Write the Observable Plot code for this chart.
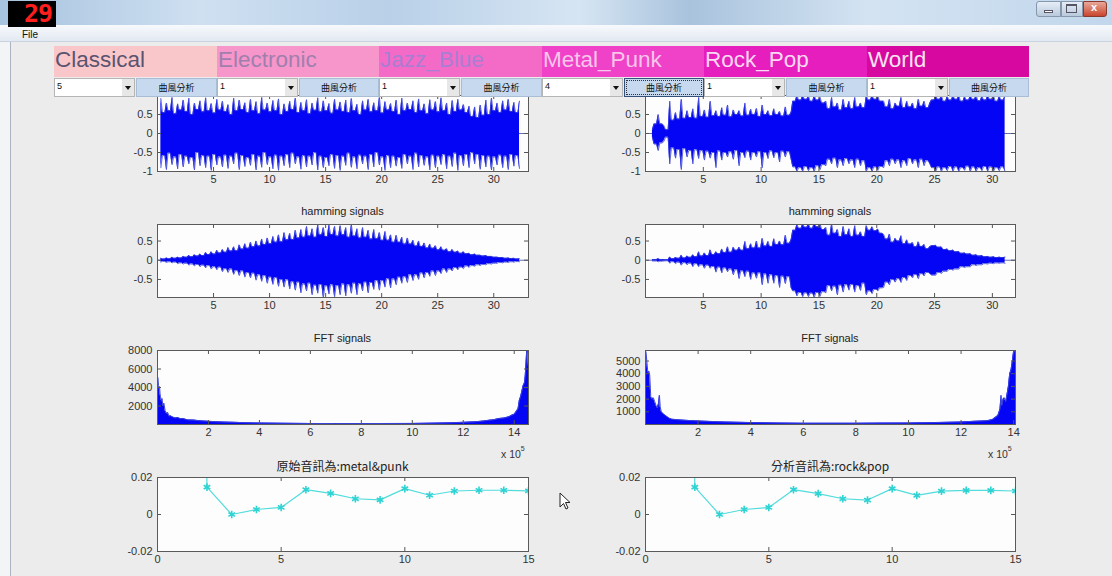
<!DOCTYPE html>
<html><head><meta charset="utf-8">
<script src="https://cdn.jsdelivr.net/npm/d3@7"></script>
<script src="https://cdn.jsdelivr.net/npm/@observablehq/plot@0.6"></script>
<style>
html,body{margin:0;padding:0}
body{width:1112px;height:576px;overflow:hidden;position:relative;background:#ececec;font-family:"Liberation Sans",Arial,sans-serif}
.a{position:absolute;box-sizing:border-box}
.t{position:absolute;white-space:nowrap;color:#2a2a2a}
svg.p{position:absolute}
</style></head><body>
<script>
// ---------- GUI texts ----------
const genres = ["Classical", "Electronic", "Jazz_Blue", "Metal_Punk", "Rock_Pop", "World"];
const genreFill = ["#f9c7ca", "#f796ca", "#f46bc7", "#f042c8", "#e61ebd", "#d7089f"];
const genreText = ["#5b5470", "#a07fae", "#a87ed2", "#f8c6ea", "#fbd9f2", "#f6e3f0"];
const dropdownValues = ["5", "1", "1", "4", "1", "1"];
const buttonLabel = "曲風分析";
const titles = {hamming: "hamming signals", fft: "FFT signals", left: "原始音訊為:metal&punk", right: "分析音訊為:rock&pop"};

// ---------- waveform (top row): peaks every 0.5 units, valleys between them ----------
const tlPeakHi = [0.92,0.8,0.95,0.78,0.88,0.93,0.8,0.86,0.94,0.79,0.9,0.85,0.76,0.93,0.88,0.81,0.9,0.84,0.95,0.8,0.87,0.91,0.78,0.85,0.93,0.82,0.89,0.8,0.94,0.86,0.79,0.9,0.83,0.88,0.92,0.77,0.86,0.9,0.81,0.95,0.84,0.79,0.88,0.93,0.8,0.86,0.91,0.78,0.89,0.84,0.94,0.8,0.87,0.9,0.76,0.72,0.7,0.75,0.88,0.93,0.8,0.86,0.9,0.82,0.85];
const tlPeakLo = [-0.9,-0.95,-0.82,-0.93,-0.88,-0.8,-0.96,-0.85,-0.9,-0.97,-0.83,-0.88,-0.92,-0.8,-0.95,-0.87,-0.84,-0.96,-0.89,-0.82,-0.93,-0.97,-0.85,-0.9,-0.8,-0.94,-0.88,-0.83,-0.96,-0.9,-0.85,-0.92,-0.97,-0.84,-0.89,-0.93,-0.8,-0.95,-0.88,-0.83,-0.97,-0.9,-0.86,-0.92,-0.8,-0.95,-0.88,-0.84,-0.96,-0.9,-0.82,-0.93,-0.87,-0.97,-0.85,-0.9,-0.8,-0.94,-0.88,-0.96,-0.83,-0.9,-0.95,-0.86,-0.92];
const tlValleyHi = [0.55,0.6,0.52,0.62,0.58,0.5,0.63,0.57,0.6,0.54,0.62,0.58,0.5,0.6,0.63,0.55,0.6,0.52,0.62,0.57,0.6,0.5,0.58,0.63,0.55,0.6,0.52,0.61,0.57,0.6,0.53,0.62,0.58,0.55,0.6,0.5,0.62,0.57,0.6,0.54,0.62,0.58,0.5,0.6,0.63,0.55,0.6,0.52,0.62,0.57,0.6,0.5,0.58,0.62,0.55,0.45,0.42,0.48,0.5,0.6,0.55,0.62,0.58,0.55];
const tlValleyLo = [-0.58,-0.52,-0.62,-0.55,-0.6,-0.63,-0.5,-0.58,-0.6,-0.55,-0.62,-0.57,-0.6,-0.52,-0.58,-0.63,-0.55,-0.6,-0.5,-0.62,-0.57,-0.6,-0.55,-0.52,-0.62,-0.58,-0.6,-0.5,-0.6,-0.63,-0.55,-0.58,-0.6,-0.52,-0.62,-0.57,-0.6,-0.55,-0.5,-0.62,-0.58,-0.6,-0.63,-0.55,-0.6,-0.52,-0.58,-0.62,-0.57,-0.6,-0.55,-0.6,-0.52,-0.58,-0.55,-0.5,-0.55,-0.58,-0.6,-0.62,-0.57,-0.6,-0.55,-0.58];

const trPeakHi = [0.1,0.5,0.2,0.85,0.55,0.9,0.6,0.65,0.95,0.62,0.85,0.6,0.68,0.75,0.62,0.6,0.8,0.64,0.66,0.75,0.6,0.65,0.58,0.7,0.56,1,1,0.98,1,0.95,0.85,0.95,0.8,0.9,0.85,0.95,0.8,1,1,0.98,0.85,0.9,0.8,0.95,0.85,0.8,0.9,0.85,0.8,1,1,0.98,1,1,0.97,1,1,0.98,1,1,0.98,1];
const trPeakLo = [-0.1,-0.45,-0.2,-0.8,-0.65,-0.95,-0.62,-0.8,-0.66,-0.7,-0.65,-0.9,-0.7,-0.62,-0.68,-0.85,-0.64,-0.7,-0.62,-0.9,-0.66,-0.64,-0.75,-0.62,-0.68,-1,-1,-0.98,-1,-0.95,-0.85,-0.8,-0.9,-0.85,-0.8,-0.9,-0.85,-1,-1,-0.97,-0.9,-0.85,-0.8,-0.9,-0.85,-0.8,-0.9,-0.85,-0.8,-1,-1,-0.98,-1,-1,-0.97,-1,-1,-0.98,-1,-1,-0.98,-1];
const trValleyHi = [0.25,0.25,0.1,0.35,0.38,0.4,0.42,0.4,0.45,0.43,0.47,0.45,0.48,0.44,0.5,0.46,0.48,0.5,0.45,0.5,0.47,0.5,0.46,0.48,0.85,0.88,0.9,0.85,0.88,0.8,0.65,0.7,0.62,0.68,0.65,0.7,0.68,0.88,0.9,0.85,0.7,0.65,0.72,0.68,0.7,0.65,0.72,0.68,0.88,0.9,0.85,0.88,0.9,0.85,0.88,0.9,0.86,0.88,0.9,0.85,0.88];
const trValleyLo = [-0.28,-0.25,-0.1,-0.38,-0.42,-0.4,-0.45,-0.43,-0.45,-0.47,-0.5,-0.46,-0.5,-0.48,-0.45,-0.5,-0.47,-0.5,-0.48,-0.5,-0.46,-0.5,-0.47,-0.48,-0.88,-0.9,-0.87,-0.9,-0.85,-0.82,-0.68,-0.65,-0.7,-0.66,-0.7,-0.68,-0.72,-0.9,-0.88,-0.87,-0.72,-0.68,-0.7,-0.72,-0.66,-0.7,-0.68,-0.72,-0.9,-0.88,-0.9,-0.87,-0.88,-0.9,-0.86,-0.88,-0.9,-0.87,-0.88,-0.9,-0.88];

// ---------- hamming signals ----------
const hlPeakHi = [0.05,0.06,0.08,0.08,0.1,0.12,0.14,0.16,0.2,0.22,0.26,0.28,0.33,0.35,0.4,0.43,0.47,0.5,0.55,0.58,0.62,0.66,0.72,0.7,0.78,0.8,0.88,0.82,0.93,0.85,0.92,0.88,0.9,0.85,0.92,0.82,0.85,0.78,0.8,0.72,0.75,0.66,0.65,0.6,0.58,0.52,0.5,0.45,0.42,0.38,0.35,0.3,0.28,0.24,0.22,0.18,0.16,0.13,0.12,0.1,0.08,0.07,0.06,0.05,0.04];
const hlPeakLo = [-0.05,-0.06,-0.07,-0.09,-0.1,-0.13,-0.15,-0.17,-0.2,-0.23,-0.25,-0.3,-0.32,-0.37,-0.4,-0.44,-0.46,-0.52,-0.55,-0.6,-0.63,-0.68,-0.7,-0.75,-0.78,-0.85,-0.8,-0.9,-0.86,-0.97,-0.88,-0.95,-0.9,-0.93,-0.86,-0.9,-0.8,-0.85,-0.76,-0.78,-0.7,-0.72,-0.64,-0.6,-0.58,-0.53,-0.5,-0.46,-0.42,-0.4,-0.35,-0.32,-0.28,-0.25,-0.22,-0.19,-0.16,-0.14,-0.12,-0.1,-0.08,-0.07,-0.06,-0.05,-0.04];
const hlValleyHi = [0.03,0.04,0.05,0.06,0.08,0.09,0.11,0.12,0.15,0.16,0.19,0.21,0.24,0.25,0.29,0.31,0.35,0.37,0.41,0.43,0.47,0.48,0.53,0.54,0.58,0.6,0.63,0.6,0.66,0.62,0.67,0.63,0.66,0.6,0.63,0.58,0.6,0.55,0.56,0.52,0.52,0.47,0.47,0.42,0.42,0.37,0.36,0.32,0.31,0.27,0.26,0.22,0.21,0.18,0.17,0.14,0.13,0.11,0.1,0.08,0.07,0.05,0.045,0.035];
const hlValleyLo = [-0.03,-0.04,-0.05,-0.07,-0.08,-0.1,-0.11,-0.13,-0.14,-0.17,-0.18,-0.22,-0.23,-0.27,-0.28,-0.32,-0.34,-0.38,-0.4,-0.44,-0.45,-0.5,-0.51,-0.56,-0.57,-0.62,-0.6,-0.65,-0.63,-0.67,-0.64,-0.66,-0.62,-0.64,-0.6,-0.61,-0.57,-0.58,-0.53,-0.53,-0.48,-0.49,-0.44,-0.43,-0.38,-0.38,-0.33,-0.32,-0.28,-0.28,-0.23,-0.23,-0.19,-0.18,-0.15,-0.14,-0.12,-0.11,-0.09,-0.08,-0.06,-0.05,-0.04,-0.035];

const hrPeakHi = [0.02,0.04,0.02,0.085,0.07,0.13,0.11,0.14,0.22,0.19,0.27,0.22,0.29,0.35,0.34,0.34,0.49,0.43,0.5,0.57,0.49,0.56,0.5,0.65,0.54,0.93,0.95,0.95,0.98,0.94,0.85,0.95,0.8,0.88,0.82,0.9,0.74,0.9,0.87,0.81,0.67,0.68,0.57,0.64,0.53,0.46,0.48,0.41,0.35,0.39,0.345,0.29,0.264,0.23,0.19,0.17,0.14,0.12,0.1,0.09,0.08,0.08];
const hrPeakLo = [-0.02,-0.04,-0.02,-0.08,-0.09,-0.13,-0.12,-0.17,-0.17,-0.21,-0.21,-0.31,-0.33,-0.3,-0.38,-0.48,-0.43,-0.5,-0.47,-0.64,-0.6,-0.6,-0.71,-0.61,-0.72,-0.93,-0.95,-0.95,-0.97,-0.94,-0.85,-0.8,-0.9,-0.83,-0.78,-0.83,-0.79,-0.9,-0.87,-0.8,-0.71,-0.64,-0.57,-0.58,-0.53,-0.46,-0.48,-0.41,-0.35,-0.39,-0.345,-0.29,-0.26,-0.23,-0.19,-0.17,-0.14,-0.12,-0.1,-0.09,-0.08,-0.08];
const hrValleyHi = [0.02,0.02,0.015,0.04,0.05,0.06,0.075,0.09,0.11,0.12,0.15,0.17,0.2,0.21,0.26,0.26,0.3,0.32,0.32,0.37,0.36,0.41,0.4,0.44,0.78,0.83,0.86,0.83,0.87,0.8,0.65,0.7,0.62,0.66,0.62,0.65,0.62,0.78,0.77,0.7,0.55,0.47,0.5,0.43,0.42,0.35,0.36,0.3,0.38,0.34,0.28,0.25,0.22,0.18,0.16,0.13,0.11,0.09,0.08,0.07,0.07];
const hrValleyLo = [-0.02,-0.025,-0.015,-0.04,-0.055,-0.065,-0.08,-0.09,-0.12,-0.13,-0.16,-0.18,-0.2,-0.23,-0.25,-0.28,-0.29,-0.33,-0.33,-0.36,-0.38,-0.4,-0.42,-0.43,-0.8,-0.84,-0.85,-0.86,-0.84,-0.82,-0.66,-0.68,-0.65,-0.64,-0.63,-0.66,-0.6,-0.8,-0.76,-0.72,-0.57,-0.5,-0.48,-0.45,-0.4,-0.37,-0.35,-0.32,-0.39,-0.32,-0.29,-0.24,-0.23,-0.17,-0.17,-0.12,-0.12,-0.09,-0.08,-0.072,-0.07];

// ---------- FFT signals (x in units of 10^5) ----------
const fftLX = [0,0.02,0.04,0.06,0.08,0.1,0.12,0.15,0.18,0.21,0.25,0.3,0.35,0.4,0.45,0.5,0.6,0.7,0.8,0.9,1.0,1.1,1.2,1.4,1.6,1.8,2.0,2.3,2.6,3.0,3.5,4.0,5,6,7,8,9,10,11,11.5,12,12.5,12.8,13.0,13.2,13.4,13.6,13.8,13.9,14.0,14.1,14.15,14.2,14.25,14.3,14.35,14.4,14.43,14.46,14.49,14.52,14.56];
const fftLY = [5200,5000,4200,3900,4100,3300,3000,2600,2800,2000,2300,1500,1200,1300,900,950,800,700,750,620,650,560,500,480,420,380,350,300,260,230,190,160,130,110,100,100,110,120,150,180,230,300,380,450,520,650,700,850,1000,1100,1500,1700,2600,3000,3600,4200,4500,5200,6500,8000,8000,6200];
const fftRX = [0,0.02,0.05,0.08,0.1,0.13,0.16,0.2,0.25,0.3,0.35,0.4,0.45,0.5,0.53,0.56,0.6,0.7,0.8,0.9,1.0,1.2,1.5,2.0,2.5,3.0,4.0,5,6,7,8,9,10,11,12,12.5,13.0,13.2,13.4,13.48,13.52,13.55,13.6,13.65,13.7,13.8,13.85,13.9,13.95,14.0,14.05,14.07];
const fftRY = [5800,5700,5000,4300,4100,4200,3900,2200,2000,2100,1800,1500,1300,1700,2300,1400,1000,800,650,500,420,380,330,280,240,200,150,120,100,100,100,110,120,150,200,250,300,400,700,1200,2300,1500,2000,2100,1800,3000,4000,4300,5000,5800,5800,5700];

// ---------- bottom line plots ----------
const lineX = [1,2,3,4,5,6,7,8,9,10,11,12,13,14,15];
const lineLeftY  = [1,0.0148,0,0.0027,0.0038,0.0134,0.0114,0.0085,0.0079,0.0140,0.0104,0.0127,0.0131,0.0131,0.0128];
const lineRightY = [1,0.0148,0,0.0027,0.0038,0.0134,0.0113,0.0085,0.0078,0.0140,0.0103,0.0126,0.0130,0.0130,0.0127];

// ---------- tick values ----------
const waveXTicks = [5,10,15,20,25,30];
const waveYTicks = [-1,-0.5,0,0.5];
const hamYTicks = [-0.5,0,0.5];
const fftXTicks = [2,4,6,8,10,12,14];
const fftLYTicks = [2000,4000,6000,8000];
const fftRYTicks = [1000,2000,3000,4000,5000];
const lineXTicks = [0,5,10,15];
const lineYTicks = [-0.02,0,0.02];

// ================= layout helpers =================
const B = document.body;
function div(cls, css, html) {
  const d = document.createElement("div");
  d.className = cls; d.style.cssText = css; if (html != null) d.innerHTML = html;
  B.appendChild(d); return d;
}
const BLUE = "#0505f5", EDGE = "#3a44d6";
const FONT = '"Liberation Sans", Arial, sans-serif';

function panel({left, top, w, h, xDomain, yDomain, xTicks, yTicks, marks}) {
  const mL = 50, mR = 16, mT = 6, mB = 22;
  const [x0, x1] = xDomain, [y0, y1] = yDomain;
  const tx = (x1 - x0) * 4 / w, ty = (y1 - y0) * 4 / h;
  const fmt = d => String(d);
  const svg = Plot.plot({
    width: w + mL + mR, height: h + mT + mB,
    marginLeft: mL, marginRight: mR, marginTop: mT, marginBottom: mB,
    x: {domain: xDomain}, y: {domain: yDomain},
    style: {background: "transparent", fontFamily: FONT, fontSize: "11px", color: "#333", overflow: "visible"},
    marks: [
      Plot.frame({fill: "#fdfdfd", stroke: "none"}),
      ...marks,
      Plot.ruleX(xTicks, {x: d => d, y1: y0, y2: y0 + ty, stroke: "#555"}),
      Plot.ruleX(xTicks, {x: d => d, y1: y1, y2: y1 - ty, stroke: "#555"}),
      Plot.ruleY(yTicks, {y: d => d, x1: x0, x2: x0 + tx, stroke: "#555"}),
      Plot.ruleY(yTicks, {y: d => d, x1: x1, x2: x1 - tx, stroke: "#555"}),
      Plot.frame({stroke: "#5a5a5a", fill: "none"}),
      Plot.axisX(xTicks, {tickSize: 0, tickPadding: 4, tickFormat: fmt}),
      Plot.axisY(yTicks, {tickSize: 0, tickPadding: 5, tickFormat: fmt})
    ]
  });
  svg.classList.add("p");
  svg.style.left = (left - mL) + "px";
  svg.style.top = (top - mT) + "px";
  B.appendChild(svg);
}

// needle waveform: peak i at x0 + 0.5 i; valley i spans flat between peak i and peak i+1
function waveMarks(x0, pHi, pLo, vHi, vLo) {
  const pts = [];
  for (let i = 0; i < pHi.length; i++) {
    pts.push({k: "p", i, dx: 0});
    if (i < vHi.length) { pts.push({k: "v", i, dx: 0.14}); pts.push({k: "v", i, dx: 0.36}); }
  }
  const X = d => x0 + d.i * 0.5 + d.dx;
  const hi = d => d.k === "p" ? pHi[d.i] : vHi[d.i];
  const lo = d => d.k === "p" ? pLo[d.i] : vLo[d.i];
  return [
    Plot.ruleY([0], {stroke: "#6070b0", strokeWidth: 1}),
    Plot.areaY(pts, {x: X, y1: lo, y2: hi, fill: BLUE, clip: true}),
    Plot.lineY(pts, {x: X, y: hi, stroke: EDGE, strokeWidth: 0.8, clip: true}),
    Plot.lineY(pts, {x: X, y: lo, stroke: EDGE, strokeWidth: 0.8, clip: true})
  ];
}

// ================= window chrome =================
div("a", "left:0;top:0;width:1112px;height:25px;background:linear-gradient(90deg,#a7c3df 0%,#cfe0f1 18%,#b9d0e8 35%,#d6e5f3 52%,#a9c3dd 62%,#d3e3f2 78%,#c2d7ec 100%)");
div("a", "left:0;top:25px;width:1112px;height:17px;background:linear-gradient(#f7f9fc,#e3e9f2);border-bottom:1px solid #c9d3df");
div("t", "left:22px;top:29px;font-size:10px;line-height:11px;color:#111", "File");
div("a", "left:0;top:42px;width:11px;height:534px;background:#f3f4f6;border-right:1px solid #aab4c2");
div("a", "left:8px;top:1px;width:48px;height:26px;background:#000");
div("t", 'left:24px;top:2px;font:bold 25px/23px "DejaVu Sans Mono",monospace;color:#ff1e1e;letter-spacing:-1px', "29");
div("a", "left:1036px;top:1px;width:25px;height:16px;background:linear-gradient(#e6eef7,#b9c9dc);border:1px solid #8797ad;border-radius:3px 0 0 3px");
div("a", "left:1061px;top:1px;width:22px;height:16px;background:linear-gradient(#e6eef7,#b9c9dc);border:1px solid #8797ad");
div("a", "left:1083px;top:1px;width:24px;height:16px;background:linear-gradient(#e9a89a,#c9452e);border:1px solid #8a3a2c;border-radius:0 3px 3px 0");
div("t", "left:1091px;top:1px;font:bold 11px/13px Arial;color:#fff", "x");
div("a", "left:1044px;top:10px;width:9px;height:3px;background:#fff;border:1px solid #556");
div("a", "left:1066px;top:4px;width:11px;height:9px;border:1px solid #556;border-top-width:2px;background:transparent");

// ================= plots =================
const LX = 157, LW = 371, RX = 645, RW = 370;

panel({left: LX, top: 95, w: LW, h: 76, xDomain: [0, 33.1], yDomain: [-1, 1], xTicks: waveXTicks, yTicks: waveYTicks,
  marks: waveMarks(0.3, tlPeakHi, tlPeakLo, tlValleyHi, tlValleyLo)});
panel({left: RX, top: 95, w: RW, h: 76, xDomain: [0, 32.0], yDomain: [-1, 1], xTicks: waveXTicks, yTicks: waveYTicks,
  marks: waveMarks(0.6, trPeakHi, trPeakLo, trValleyHi, trValleyLo)});

panel({left: LX, top: 224, w: LW, h: 73, xDomain: [0, 33.1], yDomain: [-0.97, 0.93], xTicks: waveXTicks, yTicks: hamYTicks,
  marks: waveMarks(0.3, hlPeakHi, hlPeakLo, hlValleyHi, hlValleyLo)});
panel({left: RX, top: 224, w: RW, h: 73, xDomain: [0, 32.0], yDomain: [-0.97, 0.93], xTicks: waveXTicks, yTicks: hamYTicks,
  marks: waveMarks(0.6, hrPeakHi, hrPeakLo, hrValleyHi, hrValleyLo)});

function fftMarks(X, Y) {
  const idx = d3.range(X.length);
  return [
    Plot.areaY(idx, {x: i => X[i], y: i => Y[i], fill: BLUE, clip: true}),
    Plot.lineY(idx, {x: i => X[i], y: i => Y[i], stroke: EDGE, strokeWidth: 1, clip: true})
  ];
}
panel({left: LX, top: 350, w: LW, h: 74, xDomain: [0, 14.56], yDomain: [0, 8000], xTicks: fftXTicks, yTicks: fftLYTicks,
  marks: fftMarks(fftLX, fftLY)});
panel({left: RX, top: 350, w: RW, h: 74, xDomain: [0, 14.07], yDomain: [0, 5830], xTicks: fftXTicks, yTicks: fftRYTicks,
  marks: fftMarks(fftRX, fftRY)});

function lineMarks(Y) {
  const idx = d3.range(lineX.length);
  return [
    Plot.line(idx, {x: i => lineX[i], y: i => Y[i], stroke: "#52dcdc", strokeWidth: 1.2, clip: true}),
    Plot.dot(idx, {x: i => lineX[i], y: i => Y[i], symbol: "asterisk", r: 3.6, stroke: "#2fd3d3", strokeWidth: 1.6, clip: true})
  ];
}
panel({left: LX, top: 477, w: LW, h: 74, xDomain: [0, 15], yDomain: [-0.02, 0.02], xTicks: lineXTicks, yTicks: lineYTicks,
  marks: lineMarks(lineLeftY)});
panel({left: RX, top: 477, w: RW, h: 74, xDomain: [0, 15], yDomain: [-0.02, 0.02], xTicks: lineXTicks, yTicks: lineYTicks,
  marks: lineMarks(lineRightY)});

// titles
function title(txt, cx, cy, size, font) {
  div("t", `left:${cx}px;top:${cy}px;transform:translate(-50%,-50%);font-size:${size}px;font-family:${font || FONT};color:#222`, txt);
}
title(titles.hamming, LX + LW / 2, 211, 11);
title(titles.hamming, RX + RW / 2, 211, 11);
title(titles.fft, LX + LW / 2, 338, 11);
title(titles.fft, RX + RW / 2, 338, 11);
const CJK = '"Noto Sans CJK TC","Liberation Sans",sans-serif';
title(titles.left, LX + LW / 2, 465, 12, CJK);
title(titles.right, RX + RW / 2, 465, 12, CJK);
div("t", `left:501px;top:447px;font-size:10.5px;color:#333`, "x 10<sup style='font-size:7px;position:relative;top:-2px'>5</sup>");
div("t", `left:988px;top:447px;font-size:10.5px;color:#333`, "x 10<sup style='font-size:7px;position:relative;top:-2px'>5</sup>");

// ================= genre header & controls (on top of plots) =================
genres.forEach((g, i) => {
  const x = Math.round(54 + i * 162.5), w = Math.round(54 + (i + 1) * 162.5) - x;
  div("a", `left:${x}px;top:46px;width:${w}px;height:31px;background:${genreFill[i]};z-index:5`);
  div("t", `left:${x + 1}px;top:46px;height:27px;line-height:27px;font-size:22.5px;color:${genreText[i]};z-index:6`, g);
  div("a", `left:${x}px;top:78px;width:81px;height:19px;background:#fff;border:1px solid #b5b5b5;z-index:5`);
  div("t", `left:${x + 3}px;top:81px;font-size:9px;color:#111;z-index:6`, dropdownValues[i]);
  div("a", `left:${x + 68}px;top:79px;width:12px;height:17px;background:#e7e7e7;z-index:6`);
  div("a", `left:${x + 71}px;top:86px;width:0;height:0;border-left:3px solid transparent;border-right:3px solid transparent;border-top:4px solid #111;z-index:7`);
  const focus = i === 3;
  div("a", `left:${x + 82}px;top:78px;width:${w - 82}px;height:19px;background:#c7d9ee;border:1px solid ${focus ? "#34517a" : "#a9bdd4"};z-index:5;` +
    `font-size:9px;line-height:17px;text-align:center;color:#111;font-family:"Noto Sans CJK TC",sans-serif;` + (focus ? "outline:1px dotted #333;outline-offset:-3px" : ""), buttonLabel);
});

// mouse cursor
const cur = document.createElementNS("http://www.w3.org/2000/svg", "svg");
cur.setAttribute("width", "14"); cur.setAttribute("height", "20");
cur.style.cssText = "position:absolute;left:559px;top:492px;z-index:9";
cur.innerHTML = '<path d="M1,1 L1,15 L4.5,11.5 L7,17 L9,16 L6.5,10.5 L11,10.5 Z" fill="#fff" stroke="#222" stroke-width="1"/>';
B.appendChild(cur);
</script>
</body></html>
